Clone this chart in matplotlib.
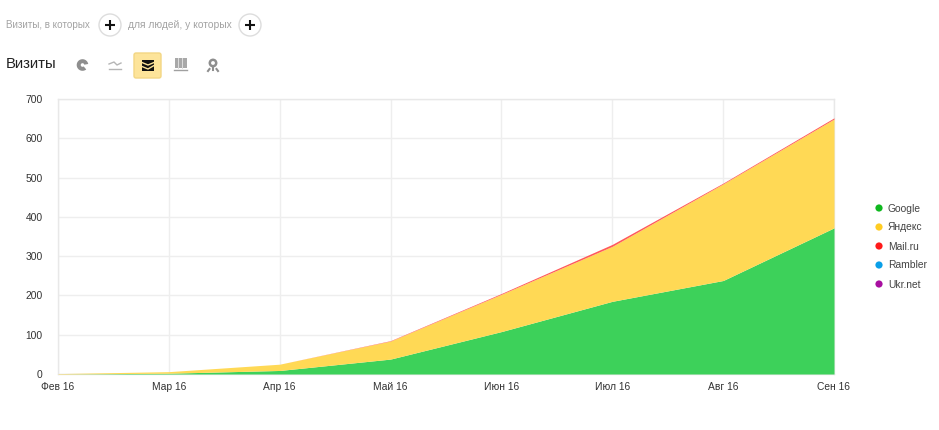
import numpy as np
import matplotlib
matplotlib.use("Agg")
import matplotlib.pyplot as plt
from matplotlib.patches import Circle, FancyBboxPatch, Wedge, Rectangle, Polygon

plt.rcParams['font.family'] = ['Liberation Sans', 'DejaVu Sans']

# значения читаются с картинки
months = ['Фев 16', 'Мар 16', 'Апр 16', 'Май 16', 'Июн 16', 'Июл 16', 'Авг 16', 'Сен 16']
google = [0, 2, 9, 38, 108, 185, 238, 372]
yandex = [1, 4, 16, 46, 95, 140, 246, 277]
mailru = [0, 0, 0, 1, 2, 5, 2, 3]
rambler = [0, 0, 0, 0, 0, 0, 0, 0]
ukrnet = [0, 0, 0, 0, 0, 0, 0, 0]
names = ['Google', 'Яндекс', 'Mail.ru', 'Rambler', 'Ukr.net']
colors = ['#0fb81f', '#ffcc22', '#ff1a1a', '#0a9fe8', '#a80fa0']
fills = ['#3dd15a', '#ffd955', '#ff5a5a', '#0a9fe8', '#a80fa0']
y_ticks = [0, 100, 200, 300, 400, 500, 600, 700]

W, H = 939, 430
fig = plt.figure(figsize=(W / 100, H / 100), dpi=100)

ax = fig.add_axes([58 / W, 1 - 374 / H, (834 - 58) / W, (374 - 99) / H])
x = np.arange(len(months))
bottom = np.zeros(len(months))
for vals, color in zip([google, yandex, mailru, rambler, ukrnet], fills):
    vals = np.array(vals, dtype=float)
    if vals.sum() > 0:
        ax.fill_between(x, bottom, bottom + vals, where=(vals > 0) | (np.roll(vals, -1) > 0),
                        color=color, linewidth=0, zorder=3)
    bottom = bottom + vals
ax.set_xlim(0, 7)
ax.set_ylim(0, 700)
ax.set_xticks(x)
ax.set_xticklabels(months, fontsize=7.4, color='#333333')
ax.set_yticks(y_ticks)
ax.tick_params(axis='both', length=0, labelsize=7.4, labelcolor='#333333')
ax.tick_params(axis='x', pad=6)
ax.tick_params(axis='y', pad=11)
ax.grid(True, color='#eeeeee', linewidth=1, zorder=0)
ax.set_axisbelow(True)
for s in ax.spines.values():
    s.set_color('#e8e8e8')
    s.set_linewidth(1)

# слой в пикселях для шапки и легенды
ui = fig.add_axes([0, 0, 1, 1], zorder=5)
ui.set_xlim(0, W)
ui.set_ylim(H, 0)
ui.axis('off')

ui.text(6, 24.5, 'Визиты, в которых', fontsize=7.1, color='#a3a3a3', va='center')
ui.text(128, 24.5, 'для людей, у которых', fontsize=7.4, color='#a3a3a3', va='center')
for cx in (110, 250):
    ui.add_patch(Circle((cx, 25), 11, fc='white', ec='#dddddd', lw=1))
    ui.plot([cx - 5, cx + 5], [25, 25], color='#111111', lw=1.5, solid_capstyle='butt')
    ui.plot([cx, cx], [20, 30], color='#111111', lw=1.5, solid_capstyle='butt')

ui.text(6, 64, 'Визиты', fontsize=10.7, color='#222222', va='center')

# иконки переключателя вида
gray = '#8e8e8e'
ui.add_patch(Wedge((82.5, 65), 5.8, 50, 350, width=4, fc=gray, ec='none'))
ui.plot([109, 114, 117, 121], [64, 62, 65, 63], color='#b5b5b5', lw=1)
ui.plot([109, 121], [69, 69], color='#b5b5b5', lw=1)

ui.add_patch(FancyBboxPatch((134, 53), 27, 25, boxstyle='round,pad=0,rounding_size=2',
                            fc='#fde49a', ec='#f3d684', lw=1))
ui.add_patch(Rectangle((142, 59.5), 12, 11.5, fc='#111111', ec='none'))
ui.plot([142, 148, 154], [62.5, 65, 62.5], color='#fde49a', lw=1)
ui.plot([142, 148, 154], [66.5, 69, 65.5], color='#fde49a', lw=1)

ui.add_patch(Rectangle((175, 58), 11.5, 9.5, fc='#a8a8a8', ec='none'))
for bx in (178, 181.5):
    ui.plot([bx, bx], [58, 67.5], color='#dddddd', lw=0.7)
ui.plot([174, 187], [70, 70], color='#a0a0a0', lw=1)

ui.add_patch(Circle((213, 63), 3.2, fc='none', ec=gray, lw=1.8))
ui.plot([213, 213], [66, 70], color=gray, lw=1.5)
ui.plot([208, 209.5], [71, 69], color=gray, lw=1.5)
ui.plot([218, 216.5], [71, 69], color=gray, lw=1.5)

# легенда
leg_y = [208, 227, 246, 265, 284]
for name, color, ly in zip(names, colors, leg_y):
    ui.add_patch(Circle((879, ly), 3.6, fc=color, ec='none'))
    ui.text(888, ly + 0.5, name, fontsize=7.4, color='#444444', va='center')

fig.savefig('out.png', dpi=100, facecolor='white')
